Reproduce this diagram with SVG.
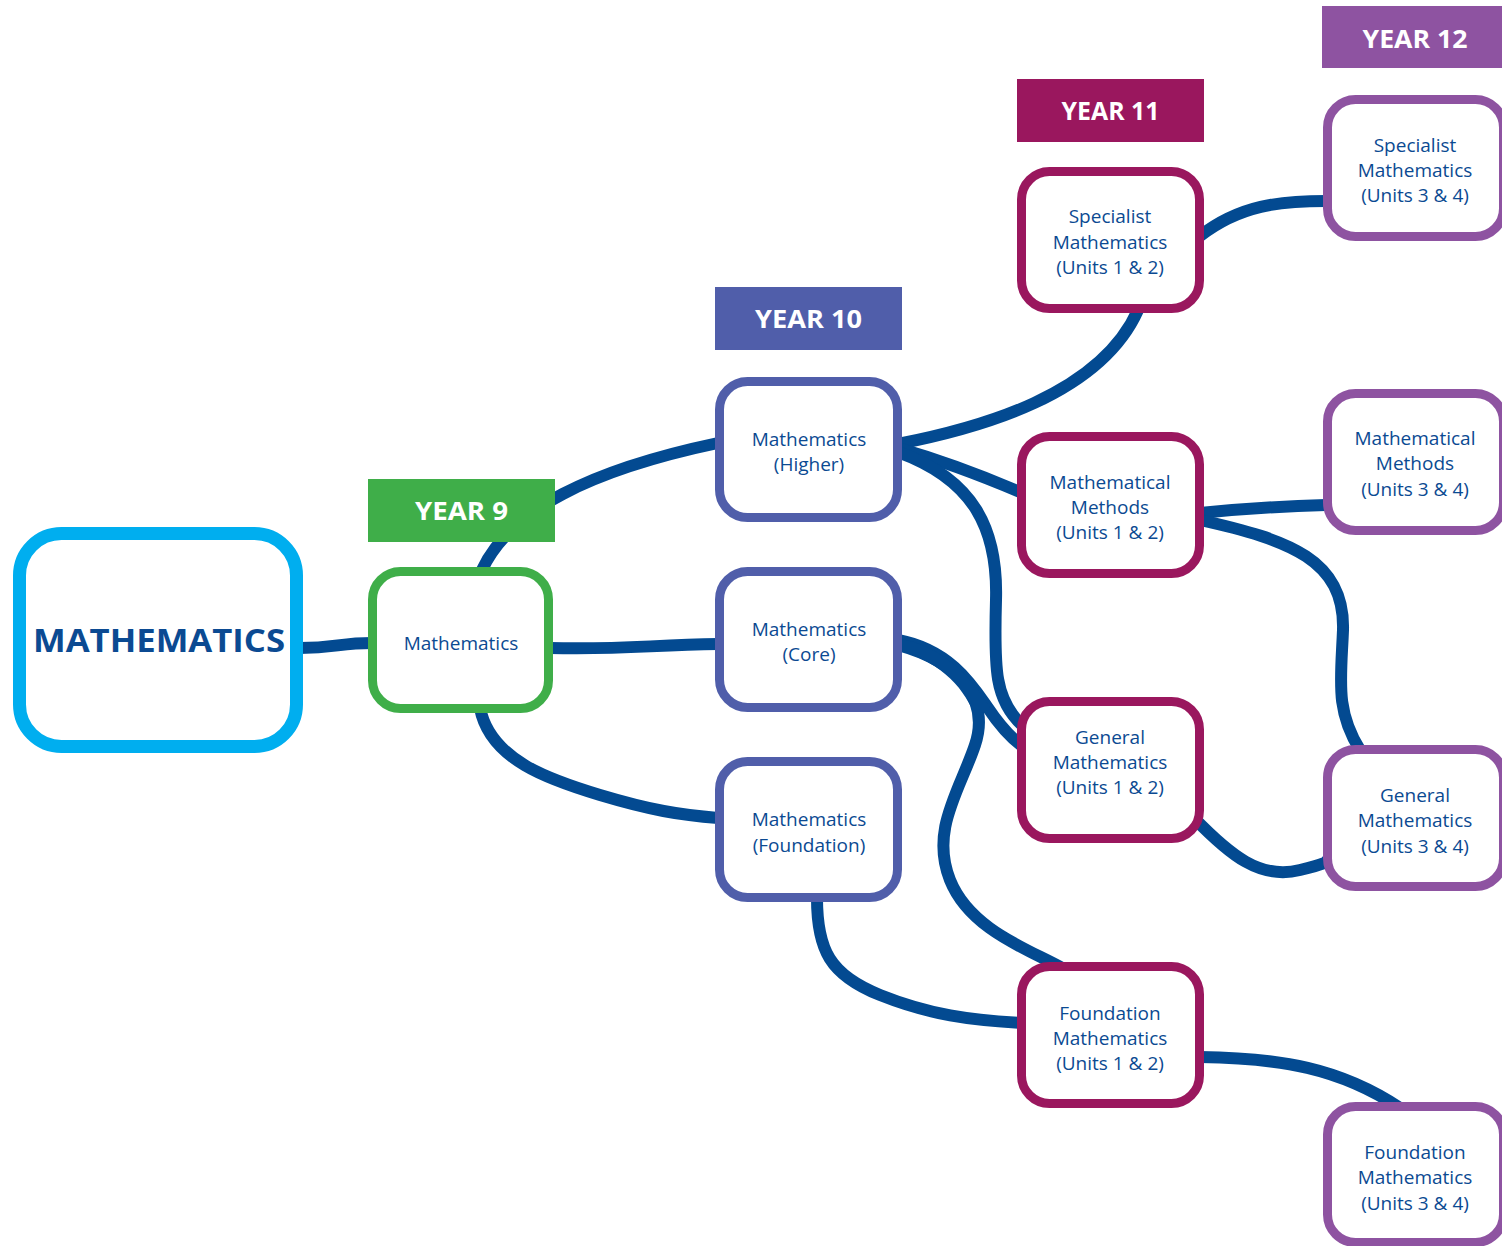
<svg xmlns="http://www.w3.org/2000/svg" width="1502" height="1246" viewBox="0 0 1502 1246">
<style>
.c{fill:none;stroke:#034A91;stroke-width:12;stroke-linecap:butt}
.n{fill:#fff;stroke-width:9}
.y9{stroke:#3FAE49}.y10{stroke:#505EAA}.y11{stroke:#9A175E}.y12{stroke:#8E53A1}
.t{font-family:"Open Sans","Liberation Sans",sans-serif;font-size:19px;fill:#0B4A92;text-anchor:middle}
.l{font-family:"Open Sans","Liberation Sans",sans-serif;font-size:25px;font-weight:bold;fill:#fff;text-anchor:middle}
</style>
<rect width="1502" height="1246" fill="#fff"/>
<g id="connectors">
<path class="c" d="M300,648 C335,648 340,643 372,643"/>
<path class="c" d="M482,570 C510,510 590,470 718,443"/>
<path class="c" d="M550,648 C620,650 650,645 718,644"/>
<path class="c" d="M480,708 C490,760 550,780 600,795 S680,815 718,818"/>
<path class="c" d="M898,444 C980,428 1100,395 1138,310"/>
<path class="c" d="M898,448 C940,460 980,475 1020,492"/>
<path class="c" d="M898,452 C975,480 998,530 996,600 C994,670 995,700 1022,725"/>
<path class="c" d="M898,640 C950,650 972,685 988,708 C1000,726 1010,737 1022,746"/>
<path class="c" d="M898,645 C960,662 990,700 975,745 C960,790 930,830 950,880 C970,930 1030,950 1062,968"/>
<path fill="#034A91" d="M898,638 C950,648 974,683 990,707 L976,718 C965,690 945,664 898,650 Z"/>
<path class="c" d="M817,898 C817,950 830,975 880,995 C930,1015 970,1020 1022,1023"/>
<path class="c" d="M1200,236 C1240,205 1280,201 1326,201"/>
<path class="c" d="M1200,513 C1250,508 1290,506 1326,505"/>
<path class="c" d="M1200,520 C1290,540 1345,560 1343,630 C1341,680 1335,710 1360,750"/>
<path class="c" d="M1194,818 C1230,855 1260,880 1300,870 S1320,862 1330,860"/>
<path class="c" d="M1200,1057 C1280,1058 1340,1068 1400,1108"/>
</g>
<g id="main">
<rect x="19.5" y="533.5" width="277" height="213" rx="42" fill="#fff" stroke="#00AEEF" stroke-width="13"/>
<text x="159" y="652" font-family="'Open Sans','Liberation Sans',sans-serif" font-size="32" font-weight="bold" fill="#0B4A92" text-anchor="middle" textLength="252" lengthAdjust="spacingAndGlyphs">MATHEMATICS</text>
</g>
<g id="label-year9"><rect x="368" y="479" width="187" height="63" fill="#3FAE49"/><text class="l" x="461.5" y="520" textLength="93" lengthAdjust="spacingAndGlyphs">YEAR 9</text></g>
<g id="label-year10"><rect x="715" y="287" width="187" height="63" fill="#505EAA"/><text class="l" x="808.5" y="328" textLength="107" lengthAdjust="spacingAndGlyphs">YEAR 10</text></g>
<g id="label-year11"><rect x="1017" y="79" width="187" height="63" fill="#9A175E"/><text class="l" x="1110.5" y="120" textLength="98" lengthAdjust="spacingAndGlyphs">YEAR 11</text></g>
<g id="label-year12"><rect x="1322" y="6" width="182" height="62" fill="#8E53A1"/><text class="l" x="1415" y="48" textLength="105" lengthAdjust="spacingAndGlyphs">YEAR 12</text></g>
<g id="y9-math"><rect class="n y9" x="372.5" y="571.5" width="176" height="137" rx="28"/><text class="t" x="461" y="650">Mathematics</text></g>
<g id="y10-higher"><rect class="n y10" x="719.5" y="381.5" width="178" height="136" rx="28"/><text class="t" x="809" y="446">Mathematics</text><text class="t" x="809" y="471">(Higher)</text></g>
<g id="y10-core"><rect class="n y10" x="719.5" y="571.5" width="178" height="136" rx="28"/><text class="t" x="809" y="636">Mathematics</text><text class="t" x="809" y="661">(Core)</text></g>
<g id="y10-foundation"><rect class="n y10" x="719.5" y="761.5" width="178" height="136" rx="28"/><text class="t" x="809" y="826">Mathematics</text><text class="t" x="809" y="852">(Foundation)</text></g>
<g id="y11-specialist"><rect class="n y11" x="1021.5" y="171.5" width="178" height="137" rx="28"/><text class="t" x="1110" y="223">Specialist</text><text class="t" x="1110" y="249">Mathematics</text><text class="t" x="1110" y="274">(Units 1 &amp; 2)</text></g>
<g id="y11-methods"><rect class="n y11" x="1021.5" y="436.5" width="178" height="137" rx="28"/><text class="t" x="1110" y="489">Mathematical</text><text class="t" x="1110" y="514">Methods</text><text class="t" x="1110" y="539">(Units 1 &amp; 2)</text></g>
<g id="y11-general"><rect class="n y11" x="1021.5" y="701.5" width="178" height="137" rx="28"/><text class="t" x="1110" y="744">General</text><text class="t" x="1110" y="769">Mathematics</text><text class="t" x="1110" y="794">(Units 1 &amp; 2)</text></g>
<g id="y11-foundation"><rect class="n y11" x="1021.5" y="966.5" width="178" height="137" rx="28"/><text class="t" x="1110" y="1020">Foundation</text><text class="t" x="1110" y="1045">Mathematics</text><text class="t" x="1110" y="1070">(Units 1 &amp; 2)</text></g>
<g id="y12-specialist"><rect class="n y12" x="1327.5" y="99.5" width="176" height="137" rx="28"/><text class="t" x="1415" y="152">Specialist</text><text class="t" x="1415" y="177">Mathematics</text><text class="t" x="1415" y="202">(Units 3 &amp; 4)</text></g>
<g id="y12-methods"><rect class="n y12" x="1327.5" y="393.5" width="176" height="137" rx="28"/><text class="t" x="1415" y="445">Mathematical</text><text class="t" x="1415" y="470">Methods</text><text class="t" x="1415" y="496">(Units 3 &amp; 4)</text></g>
<g id="y12-general"><rect class="n y12" x="1327.5" y="749.5" width="176" height="137" rx="28"/><text class="t" x="1415" y="802">General</text><text class="t" x="1415" y="827">Mathematics</text><text class="t" x="1415" y="853">(Units 3 &amp; 4)</text></g>
<g id="y12-foundation"><rect class="n y12" x="1327.5" y="1106.5" width="176" height="136" rx="28"/><text class="t" x="1415" y="1159">Foundation</text><text class="t" x="1415" y="1184">Mathematics</text><text class="t" x="1415" y="1210">(Units 3 &amp; 4)</text></g>
</svg>
